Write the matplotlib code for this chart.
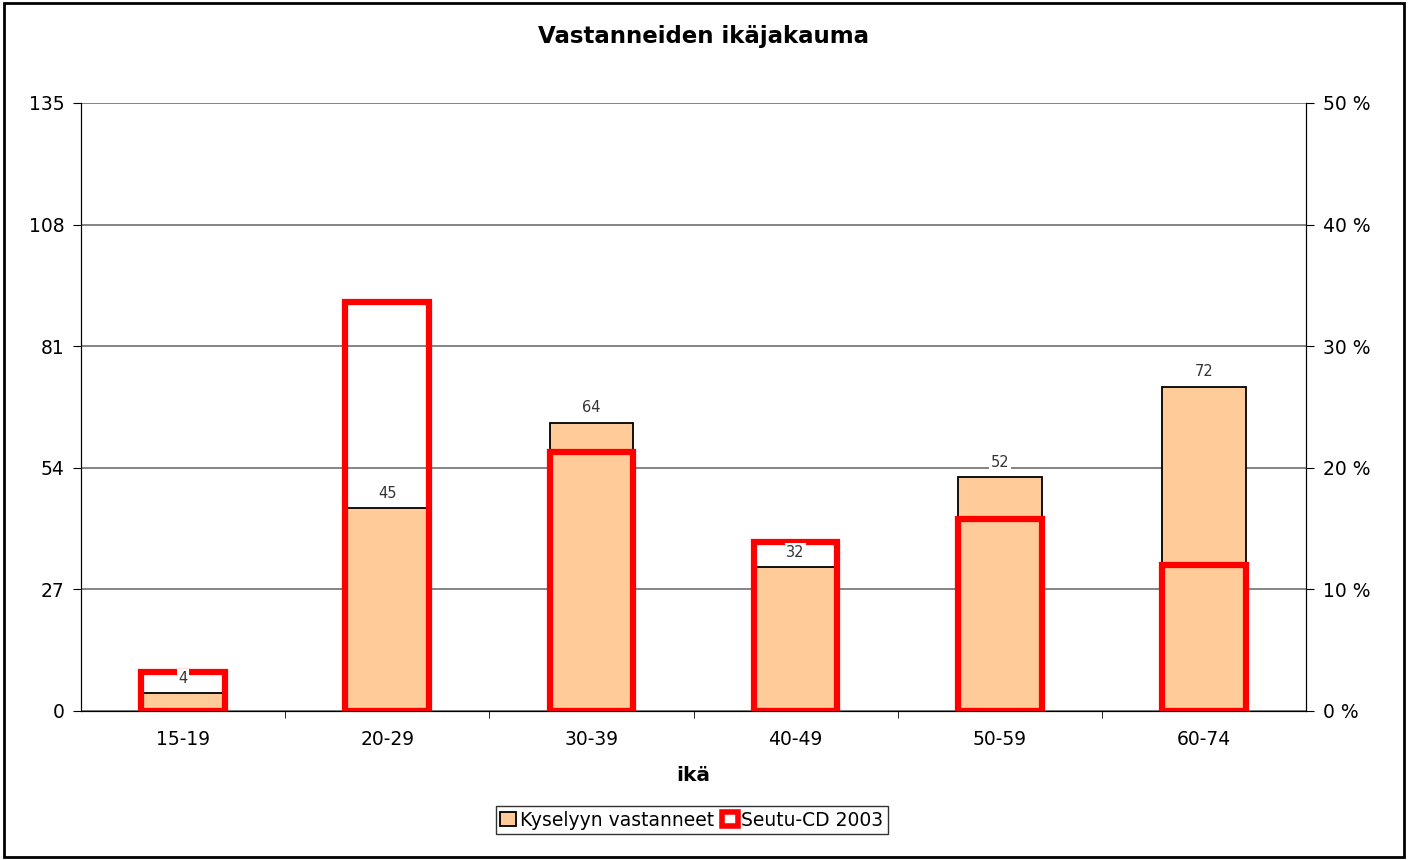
import matplotlib.pyplot as plt
import numpy as np
from matplotlib.patches import Rectangle

labels = ['15-19', '20-29', '30-39', '40-49', '50-59', '60-74']
vastanneet = [4, 45, 64, 32, 52, 72]
seutu_pct = [3.2, 33.6, 21.3, 13.9, 15.8, 12.0]

x = np.arange(len(labels))
width = 0.41

fig = plt.figure(figsize=(14.08, 8.6), dpi=100)
ax = fig.add_axes([81 / 1408, 1 - 711 / 860, 1225 / 1408, 608 / 860])

ax.bar(x, vastanneet, width=width, color='#FFCC99', edgecolor='black', linewidth=1.3, zorder=2)
ax.set_xlim(-0.5, len(labels) - 0.5)
ax.set_ylim(0, 135)
ax.set_yticks(np.arange(0, 136, 27))
ax.yaxis.grid(True, color='#707070', linewidth=1.2)
ax.set_axisbelow(True)
ax.set_xticks(x)
ax.set_xticklabels(labels, fontsize=13.5)
ax.set_xticks(np.arange(0.5, len(labels) - 0.5, 1), minor=True)
ax.tick_params(axis='x', which='major', length=0, pad=14)
ax.tick_params(axis='x', which='minor', length=5, color='black')
ax.tick_params(axis='y', labelsize=13.5, length=6, color='black', pad=6)
for s in ax.spines.values():
    s.set_color('black')
ax.spines['top'].set_visible(False)
ax.set_xlabel('ikä', fontsize=14.5, fontweight='bold', labelpad=12)

ax2 = ax.twinx()
ax2.bar(x, seutu_pct, width=width, facecolor='none', edgecolor='#FF0000', linewidth=4.5, zorder=3)
ax2.set_ylim(0, 50)
ax2.set_yticks(np.arange(0, 51, 10))
ax2.set_yticklabels([f'{v} %' for v in range(0, 51, 10)])
ax2.tick_params(axis='y', labelsize=13.5, length=6, color='black', pad=6)
for s in ax2.spines.values():
    s.set_color('black')
ax2.spines['top'].set_visible(False)

for xi, v in zip(x, vastanneet):
    ax2.text(xi, v * 50 / 135 + 0.6, str(v), ha='center', va='bottom', fontsize=10.5, color='#333333',
             bbox=dict(facecolor='white', edgecolor='none', pad=1), zorder=5)

fig.text(0.5, 1 - 36 / 860, 'Vastanneiden ikäjakauma', ha='center', va='center',
         fontsize=16.5, fontweight='bold')

h1 = Rectangle((0, 0), 1, 1, facecolor='#FFCC99', edgecolor='black', linewidth=1.3)
h2 = Rectangle((0, 0), 1, 1, facecolor='white', edgecolor='#FF0000', linewidth=4)
leg = fig.legend([h1, h2], ['Kyselyyn vastanneet', 'Seutu-CD 2003'], loc='center',
                 bbox_to_anchor=(692 / 1408, 1 - 820 / 860), ncol=2, fontsize=13.5, frameon=True,
                 fancybox=False, handlelength=0.85, handleheight=0.85, handletextpad=0.2,
                 columnspacing=0.4, borderpad=0.25, edgecolor='black')
leg.get_frame().set_linewidth(1)

fig.patches.append(Rectangle((0.003, 0.003), 0.994, 0.994, transform=fig.transFigure,
                             fill=False, edgecolor='black', linewidth=2))

fig.savefig('out.png', dpi=100)
